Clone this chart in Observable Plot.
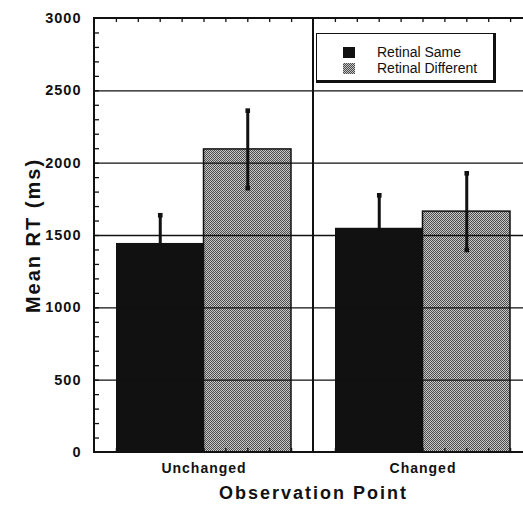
<!DOCTYPE html>
<html>
<head>
<meta charset="utf-8">
<script src="https://cdn.jsdelivr.net/npm/d3@7"></script>
<script src="https://cdn.jsdelivr.net/npm/@observablehq/plot@0.6"></script>
<style>
  body { margin: 0; background: #fff; font-family: "Liberation Sans", Arial, sans-serif; }
  #wrap { position: relative; width: 523px; height: 505px; overflow: hidden; }
  #legend { position: absolute; left: 316px; top: 33px; width: 176px; height: 46px;
    border-left: 1.5px solid #111; border-top: 1.5px solid #111;
    border-right: 3.5px solid #111; border-bottom: 3.5px solid #111; background: #fff; }
  .row { position: absolute; left: 26px; font-size: 14px; color: #111; display: flex; align-items: center; }
  .sw { width: 12px; height: 11px; margin-right: 22px; }
</style>
</head>
<body>
<div id="wrap">
  <div id="chart"></div>
  <div id="legend">
    <div class="row" style="top:10px"><span class="sw" style="background:#111"></span><span>Retinal Same</span></div>
    <div class="row" style="top:26px"><span class="sw" style="background:repeating-conic-gradient(#4a4a4a 0 25%, #c4c4c4 0 50%) 0 0/2px 2px"></span><span>Retinal Different</span></div>
  </div>
</div>
<script>
const groups = ["Unchanged", "Changed"];
const series = ["Retinal Same", "Retinal Different"];
const sameMeans = [1445, 1550];
const sameErr = [195, 228];
const diffMeans = [2095, 1665];
const diffErr = [268, 265];
const yTicks = [0, 500, 1000, 1500, 2000, 2500, 3000];
const gridValues = [500, 1000, 1500, 2000, 2500];
const minorTicks = d3.range(100, 3000, 100);
const xMinorSteps = d3.range(1, 10);

const same = groups.map((g, i) => ({group: g, mean: sameMeans[i], lo: sameMeans[i] - sameErr[i], hi: sameMeans[i] + sameErr[i]}));
const diff = groups.map((g, i) => ({group: g, mean: diffMeans[i], lo: diffMeans[i] - diffErr[i], hi: diffMeans[i] + diffErr[i]}));

const bw = 219; // band width in px (for inset styling)
const fh = 434; // frame height in px
const padOuter = 22;
const half = (bw - 2 * padOuter) / 2;
const offS = -half / 2, offD = half / 2;

const xMinor = xMinorSteps.flatMap(k => [
  Plot.ruleX(groups, {x: d => d, y1: 3000, y2: 0, dx: (k / 10 - 0.5) * bw, insetBottom: fh - 4, stroke: "#111", strokeWidth: 1.3}),
  Plot.ruleX(groups, {x: d => d, y1: 3000, y2: 0, dx: (k / 10 - 0.5) * bw, insetTop: fh - 4, stroke: "#111", strokeWidth: 1.3})
]);

const chart = Plot.plot({
  width: 523,
  height: 505,
  marginLeft: 94,
  marginRight: -9,
  marginTop: 18,
  marginBottom: 53,
  style: {fontFamily: "'Liberation Sans', Arial, sans-serif", color: "#111"},
  x: {type: "band", domain: groups, padding: 0},
  y: {domain: [0, 3000]},
  marks: [
    Plot.barY(same, {x: "group", y: "mean", fill: "#111", insetLeft: padOuter, insetRight: padOuter + half}),
    Plot.barY(diff, {x: "group", y: "mean", fill: "url(#tex)", stroke: "#111", strokeWidth: 1.5, insetLeft: padOuter + half, insetRight: padOuter}),
    Plot.ruleY(gridValues, {stroke: "#111", strokeWidth: 1.3}),
    Plot.barY(groups, {x: d => d, y1: 0, y2: 3000, fill: "none", stroke: "#111", strokeWidth: 2}),
    Plot.tickY(minorTicks, {x: () => "Unchanged", y: d => d, stroke: "#111", strokeWidth: 1.3, insetRight: bw - 5}),
    ...xMinor,
    Plot.ruleX(same, {x: "group", y1: "lo", y2: "hi", dx: offS, stroke: "#111", strokeWidth: 3}),
    Plot.ruleX(diff, {x: "group", y1: "lo", y2: "hi", dx: offD, stroke: "#111", strokeWidth: 3}),
    Plot.dot(same, {x: "group", y: "hi", dx: offS, r: 2.6, fill: "#111", symbol: "square"}),
    Plot.dot(diff, {x: "group", y: "hi", dx: offD, r: 2.6, fill: "#111", symbol: "square"}),
    Plot.dot(diff, {x: "group", y: "lo", dx: offD, r: 2.6, fill: "#111", symbol: "square"}),
    Plot.axisY({ticks: yTicks, tickFormat: d => String(d), tickSize: 0, tickPadding: 13, fontSize: 14.5, fontWeight: "bold", label: null}),
    Plot.axisX({tickSize: 0, tickPadding: 11, fontSize: 14, fontWeight: "bold", label: null}),
    Plot.text(["Mean RT (ms)"], {frameAnchor: "left", dx: -61, rotate: -90, textAnchor: "middle", fontSize: 20, fontWeight: "bold", text: d => d, className: "wide"}),
    Plot.text(["Observation Point"], {frameAnchor: "bottom", dy: 46, fontSize: 18, fontWeight: "bold", text: d => d, className: "wide"})
  ]
});

// texture pattern for "Retinal Different"
const ns = "http://www.w3.org/2000/svg";
const defs = document.createElementNS(ns, "defs");
defs.innerHTML = `<pattern id="tex" patternUnits="userSpaceOnUse" width="4" height="4">
  <rect width="4" height="4" fill="#c8c8c8"/>
  <rect x="0" y="0" width="1" height="1" fill="#4a4a4a"/>
  <rect x="2" y="0" width="1" height="1" fill="#555"/>
  <rect x="1" y="1" width="1" height="1" fill="#505050"/>
  <rect x="3" y="1" width="1" height="1" fill="#444"/>
  <rect x="0" y="2" width="1" height="1" fill="#585858"/>
  <rect x="2" y="2" width="1" height="1" fill="#474747"/>
  <rect x="1" y="3" width="1" height="1" fill="#4e4e4e"/>
  <rect x="3" y="3" width="1" height="1" fill="#525252"/>
  <rect x="1" y="0" width="1" height="1" fill="#b8b8b8"/>
  <rect x="2" y="1" width="1" height="1" fill="#d2d2d2"/>
</pattern>`;
chart.insertBefore(defs, chart.firstChild);
chart.querySelectorAll("text").forEach(t => t.style.letterSpacing = "1px");
chart.querySelectorAll(".wide text").forEach(t => t.style.letterSpacing = "2px");
document.getElementById("chart").appendChild(chart);
</script>
</body>
</html>
